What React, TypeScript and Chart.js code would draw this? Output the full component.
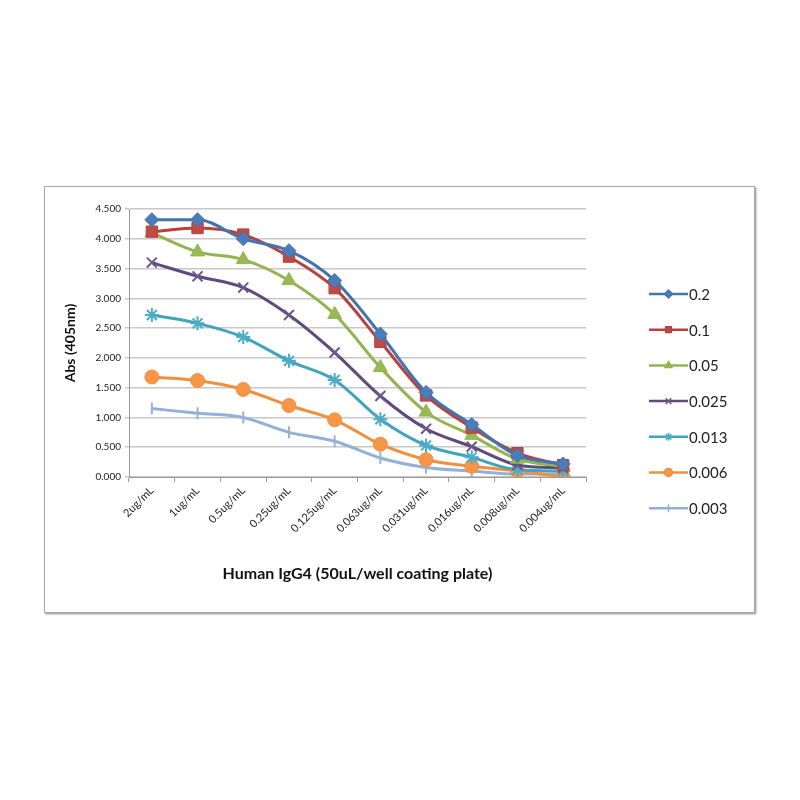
import React, { useEffect, useRef } from 'react';
import { Chart, registerables } from 'chart.js';
import { drawPoint } from 'chart.js/helpers';

Chart.register(...registerables);

// concentrations of coated antigen on the x axis
const categories = [
  '2ug/mL', '1ug/mL', '0.5ug/mL', '0.25ug/mL', '0.125ug/mL',
  '0.063ug/mL', '0.031ug/mL', '0.016ug/mL', '0.008ug/mL', '0.004ug/mL',
];

const seriesNames = ['0.2', '0.1', '0.05', '0.025', '0.013', '0.006', '0.003'];

const s02 = [4.32, 4.32, 4.0, 3.8, 3.3, 2.4, 1.42, 0.88, 0.36, 0.22];
const s01 = [4.12, 4.18, 4.07, 3.7, 3.17, 2.27, 1.37, 0.83, 0.4, 0.2];
const s005 = [4.1, 3.78, 3.65, 3.3, 2.73, 1.84, 1.09, 0.7, 0.3, 0.18];
const s0025 = [3.6, 3.37, 3.18, 2.72, 2.09, 1.36, 0.81, 0.51, 0.2, 0.15];
const s0013 = [2.72, 2.58, 2.35, 1.95, 1.63, 0.97, 0.53, 0.33, 0.12, 0.1];
const s0006 = [1.68, 1.62, 1.47, 1.2, 0.96, 0.55, 0.29, 0.18, 0.1, 0.0];
const s0003 = [1.15, 1.07, 1.0, 0.75, 0.6, 0.32, 0.16, 0.1, 0.05, 0.05];

const seriesValues = [s02, s01, s005, s0025, s0013, s0006, s0003];

const lineColors = ['#4374b0', '#b8403d', '#94b451', '#5f4a7c', '#42a3bf', '#f0903f', '#92b0d8'];
const pointColors = ['#4a7ebb', '#be4b48', '#98b954', '#6d568c', '#4bacc6', '#f79646', '#95b3d7'];
const pointStyles = ['rectRot', 'rect', 'triangle', 'crossRot', 'star', 'circle', 'line'];
const pointSizes = [7, 8, 8, 7, 7, 7, 6];

const FONT = 'Lato, "Open Sans", sans-serif';

// draws the Excel-like legend (line with marker, then the label)
const sideLegend = {
  id: 'sideLegend',
  afterDraw(chart: any) {
    const ctx = chart.ctx as CanvasRenderingContext2D;
    const x0 = 604;
    const x1 = 643;
    const top = 107;
    const gap = 35.7;
    ctx.save();
    chart.data.datasets.forEach((ds: any, i: number) => {
      const y = top + i * gap;
      ctx.strokeStyle = ds.borderColor;
      ctx.lineWidth = 2.5;
      ctx.beginPath();
      ctx.moveTo(x0, y);
      ctx.lineTo(x1, y);
      ctx.stroke();
      ctx.fillStyle = ds.pointBackgroundColor;
      ctx.strokeStyle = ds.pointBorderColor;
      ctx.lineWidth = 1.5;
      drawPoint(ctx, {
        pointStyle: ds.pointStyle,
        radius: 4,
        rotation: ds.pointRotation || 0,
        borderWidth: 1.5,
      } as any, (x0 + x1) / 2, y);
      ctx.fillStyle = '#222';
      ctx.font = `15px ${FONT}`;
      ctx.textBaseline = 'middle';
      ctx.textAlign = 'left';
      ctx.fillText(ds.label, x1 + 1, y + 1);
    });
    ctx.restore();
  },
};

const App = () => {
  const canvasRef = useRef<HTMLCanvasElement | null>(null);
  const chartRef = useRef<Chart | null>(null);

  useEffect(() => {
    if (chartRef.current) {
      chartRef.current.destroy();
    }
    const ctx = canvasRef.current?.getContext('2d');
    if (!ctx) return;

    chartRef.current = new Chart(ctx, {
      type: 'line',
      data: {
        labels: categories,
        datasets: seriesNames.map((name, i) => ({
          label: name,
          data: seriesValues[i],
          borderColor: lineColors[i],
          backgroundColor: pointColors[i],
          pointBackgroundColor: pointColors[i],
          pointBorderColor: i === 3 || i === 4 || i === 6 ? pointColors[i] : lineColors[i],
          pointBorderWidth: i === 3 || i === 4 || i === 6 ? 2 : 1,
          pointStyle: pointStyles[i],
          pointRotation: i === 6 ? 90 : 0,
          pointRadius: pointSizes[i],
          borderWidth: 3,
          cubicInterpolationMode: 'monotone',
          fill: false,
        })) as any,
      },
      options: {
        animation: false,
        responsive: true,
        maintainAspectRatio: false,
        layout: { padding: { left: 13, top: 22, right: 168, bottom: 25 } },
        plugins: {
          legend: { display: false },
          tooltip: { enabled: false },
        },
        scales: {
          x: {
            offset: true,
            grid: { offset: true, drawOnChartArea: false, tickLength: 5, color: '#999' },
            border: { color: '#999' },
            ticks: {
              minRotation: 45,
              maxRotation: 45,
              autoSkip: false,
              color: '#222',
              font: { size: 11, family: FONT },
              padding: 2,
            },
            title: {
              display: true,
              text: 'Human IgG4 (50uL/well coating plate)',
              color: '#111',
              font: { size: 16, weight: 'bold', family: FONT },
              padding: { top: 4, bottom: 4 },
            },
            afterFit: (scale: any) => {
              scale.height = 110;
            },
          },
          y: {
            min: 0,
            max: 4.5,
            grid: { color: '#c8c8c8', lineWidth: 1.5, tickLength: 4 },
            border: { color: '#999' },
            ticks: {
              stepSize: 0.5,
              callback: (v: any) => Number(v).toFixed(3),
              color: '#222',
              font: { size: 10, family: FONT },
              padding: 4,
            },
            title: {
              display: true,
              text: 'Abs (405nm)',
              color: '#111',
              font: { size: 14, weight: 'bold', family: FONT },
              padding: { top: 4, bottom: 4 },
            },
            afterFit: (scale: any) => {
              scale.width = 71;
            },
          },
        },
      },
      plugins: [sideLegend],
    });

    return () => {
      if (chartRef.current) {
        chartRef.current.destroy();
        chartRef.current = null;
      }
    };
  }, []);

  return (
    <div style={{ position: 'fixed', left: 0, top: 0, width: 800, height: 800, background: '#fff' }}>
      <div
        style={{
          position: 'absolute',
          left: 44,
          top: 186,
          width: 709,
          height: 425,
          border: '1px solid #a8a8a8',
          boxShadow: '1px 1px 2px #888',
        }}
      >
        <canvas ref={canvasRef}></canvas>
      </div>
    </div>
  );
};

export default App;
